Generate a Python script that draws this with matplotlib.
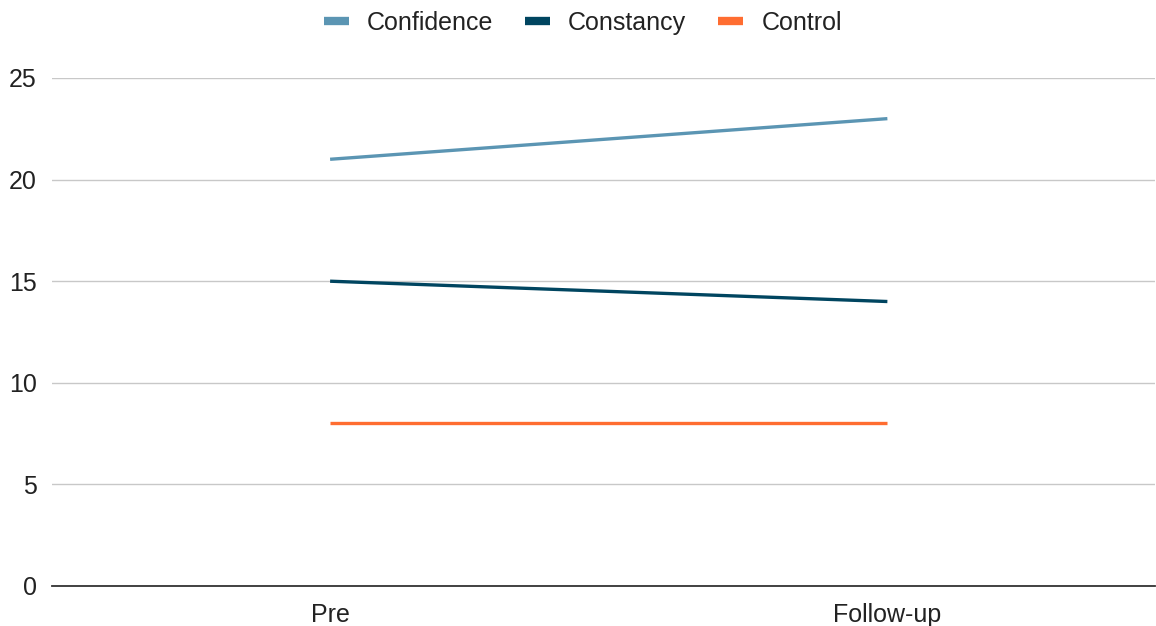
import matplotlib
matplotlib.use('Agg')
import matplotlib.pyplot as plt
from matplotlib.lines import Line2D

categories = ['Pre', 'Follow-up']
confidence = [21, 23]
constancy = [15, 14]
control = [8, 8]

names = ['Confidence', 'Constancy', 'Control']
colors = ['#5b95b3', '#004560', '#ff6d31']

plt.rcParams['font.family'] = ['Liberation Sans', 'DejaVu Sans']

fig = plt.figure(figsize=(11.56, 6.26), dpi=100)
ax = fig.add_axes([0.045, 0.0639, 0.9545, 0.8115])

x = range(len(categories))
for vals, c, n in zip([confidence, constancy, control], colors, names):
    ax.plot(x, vals, color=c, lw=2.4, label=n, solid_capstyle='butt')

ax.set_xlim(-0.499, 1.481)
ax.set_ylim(0, 25)
ax.set_yticks([0, 5, 10, 15, 20, 25])
ax.set_xticks(list(x))
ax.set_xticklabels(categories)
ax.grid(axis='y', color='#c8c8c8', lw=1)
ax.set_axisbelow(True)
for s in ['top', 'right', 'left']:
    ax.spines[s].set_visible(False)
ax.spines['bottom'].set_color('#333333')
ax.spines['bottom'].set_linewidth(1.3)
ax.tick_params(length=0, labelsize=18, colors='#222222')
ax.tick_params(axis='x', pad=12)
ax.tick_params(axis='y', pad=11)

# chunky swatches for the legend
handles = [Line2D([0], [0], color=c, lw=6, solid_capstyle='butt') for c in colors]
leg = ax.legend(handles, names, loc='center', bbox_to_anchor=(0.481, 1.108), ncol=3,
                frameon=False, fontsize=18, handlelength=1.0, handletextpad=0.72,
                columnspacing=1.28)
for t in leg.get_texts():
    t.set_color('#222222')

fig.savefig('out.png')
